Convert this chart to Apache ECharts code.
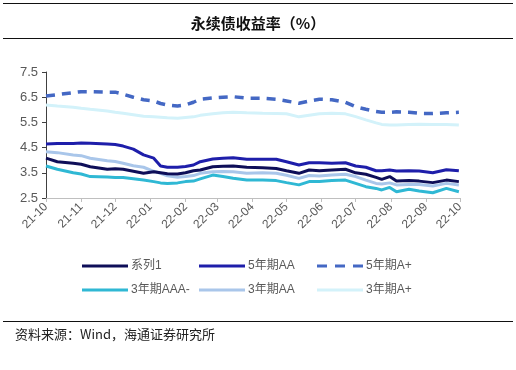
<!DOCTYPE html>
<html><head><meta charset="utf-8">
<script src="https://cdn.jsdelivr.net/npm/echarts@6/dist/echarts.min.js"></script>
<style>html,body{margin:0;padding:0;background:#fff}#c{width:516px;height:370px}</style>
</head><body><div id="c"></div>
<script>
const dates = ['2021-10-01','2021-10-11','2021-10-25','2021-11-01','2021-11-09','2021-11-24','2021-12-01','2021-12-08','2021-12-17','2021-12-26',
 '2022-01-04','2022-01-10','2022-01-16','2022-01-25','2022-02-01','2022-02-08','2022-02-14','2022-02-25','2022-03-06','2022-03-15',
 '2022-03-27','2022-04-10','2022-04-22','2022-05-01','2022-05-12','2022-05-21','2022-05-30','2022-06-10','2022-06-22','2022-07-01',
 '2022-07-10','2022-07-19','2022-07-24','2022-07-31','2022-08-06','2022-08-17','2022-08-26','2022-09-07','2022-09-19','2022-09-30'];
const s1   = [4.08,3.94,3.88,3.84,3.74,3.64,3.66,3.64,3.56,3.48,3.54,3.50,3.46,3.45,3.50,3.58,3.61,3.74,3.76,3.77,3.72,3.70,3.67,3.58,3.48,3.61,3.58,3.61,3.64,3.50,3.44,3.32,3.24,3.35,3.17,3.19,3.17,3.11,3.21,3.15];
const aa5  = [4.64,4.66,4.66,4.68,4.67,4.64,4.62,4.56,4.44,4.21,4.08,3.77,3.72,3.72,3.75,3.81,3.94,4.05,4.08,4.10,4.04,4.04,4.04,3.94,3.81,3.90,3.90,3.88,3.90,3.77,3.72,3.58,3.58,3.61,3.57,3.58,3.57,3.50,3.62,3.58];
const ap5  = [6.55,6.60,6.68,6.72,6.72,6.70,6.70,6.62,6.50,6.40,6.35,6.25,6.19,6.15,6.19,6.30,6.42,6.47,6.50,6.52,6.46,6.46,6.42,6.35,6.26,6.35,6.42,6.40,6.30,6.12,6.02,5.93,5.90,5.90,5.92,5.90,5.86,5.85,5.88,5.90];
const aaa3 = [3.77,3.64,3.50,3.45,3.35,3.33,3.31,3.31,3.26,3.21,3.15,3.10,3.08,3.10,3.15,3.17,3.26,3.41,3.35,3.28,3.21,3.21,3.19,3.11,3.02,3.15,3.15,3.19,3.21,3.08,2.95,2.88,2.82,2.92,2.75,2.85,2.78,2.71,2.88,2.75];
const aa3  = [4.34,4.30,4.21,4.18,4.08,3.98,3.95,3.88,3.78,3.72,3.56,3.48,3.38,3.32,3.35,3.39,3.48,3.54,3.55,3.54,3.48,3.50,3.48,3.40,3.28,3.39,3.37,3.41,3.44,3.35,3.21,3.08,3.06,3.10,3.02,3.04,3.04,2.98,3.08,3.02];
const ap3  = [6.19,6.15,6.10,6.06,6.02,5.95,5.90,5.86,5.80,5.74,5.72,5.70,5.68,5.66,5.69,5.72,5.78,5.84,5.88,5.90,5.88,5.86,5.85,5.84,5.72,5.78,5.84,5.86,5.84,5.73,5.60,5.48,5.42,5.40,5.40,5.42,5.43,5.42,5.42,5.40];
const monthTicks = ['2021-10-01','2021-11-01','2021-12-01','2022-01-01','2022-02-01','2022-03-01','2022-04-01','2022-05-01','2022-06-01','2022-07-01','2022-08-01','2022-09-01','2022-10-01'];
const seriesNames = ['系列1','5年期AA','5年期A+','3年期AAA-','3年期AA','3年期A+'];
const yTicks = [2.5,3.5,4.5,5.5,6.5,7.5];

const ts = d => { const p = d.split('-'); return Date.UTC(+p[0], +p[1]-1, +p[2]); };
const tickTs = monthTicks.map(ts);
const mk = arr => arr.map((v,i)=>[ts(dates[i]), v]);
const fontF = '"Liberation Sans","Noto Sans CJK SC",sans-serif';
const styles = [
  {color:'#0e0e58', width:3},
  {color:'#1e1eaa', width:3},
  {color:'#4468c4', width:3.5, type:[9,7]},
  {color:'#2fb8d4', width:3},
  {color:'#a9c6ea', width:3},
  {color:'#d3f2fa', width:3}
];
const datasets = [s1, aa5, ap5, aaa3, aa3, ap3];
const legendPos = [[77,255],[194,255],[312,255],[77,279],[194,279],[312,279]];
const dashIcon = 'path://M0,0h10v3h-10z M18,0h10v3h-10z M36,0h10v3h-10z';

const chart = echarts.init(document.getElementById('c'), null, {renderer:'canvas'});
chart.setOption({
  animation:false,
  backgroundColor:'#fff',
  title:{text:'永续债收益率（%）', left:'center', top:11,
    textStyle:{fontFamily:'"Noto Sans CJK SC",sans-serif', fontSize:15, fontWeight:'bold', color:'#111'}},
  grid:{left:46, right:56, top:72, bottom:172},
  legend: seriesNames.map((n,i)=>({
    data:[n], left:legendPos[i][0], top:legendPos[i][1], itemWidth:46, itemHeight:3, itemGap:0,
    icon: styles[i].type ? dashIcon : 'rect',
    itemStyle:{color:styles[i].color, borderWidth:0},
    textStyle:{fontFamily:fontF, fontSize:12, color:'#595959', padding:[0,0,0,-2]}
  })),
  xAxis:{type:'value', min:tickTs[0], max:tickTs[tickTs.length-1],
    axisLine:{lineStyle:{color:'#bfbfbf', width:1}},
    axisTick:{show:true, customValues:tickTs, length:4, lineStyle:{color:'#bfbfbf'}},
    axisLabel:{customValues:tickTs, rotate:45, color:'#595959', fontFamily:fontF, fontSize:12, margin:7,
      formatter: v => { const d=new Date(v); return String(d.getUTCFullYear()).slice(2)+'-'+String(d.getUTCMonth()+1).padStart(2,'0'); },
      hideOverlap:false, showMinLabel:true, showMaxLabel:true},
    splitLine:{show:false}},
  yAxis:{type:'value', min:yTicks[0], max:yTicks[yTicks.length-1], interval:1,
    axisLine:{show:true, lineStyle:{color:'#404040', width:1}},
    axisTick:{show:true, length:4, lineStyle:{color:'#404040'}},
    axisLabel:{color:'#595959', fontFamily:fontF, fontSize:13, margin:8, formatter:v=>v.toFixed(1)},
    splitLine:{show:false}},
  series: seriesNames.map((n,i)=>({
    name:n, type:'line', symbol:'none', smooth:false, data:mk(datasets[i]),
    lineStyle:{color:styles[i].color, width:styles[i].width, type:styles[i].type||'solid'},
    itemStyle:{color:styles[i].color}, z: 10-i
  })),
  graphic:[
    {type:'line', shape:{x1:3,y1:3.5,x2:513,y2:3.5}, style:{stroke:'#111', lineWidth:1}},
    {type:'line', shape:{x1:3,y1:38.5,x2:513,y2:38.5}, style:{stroke:'#111', lineWidth:1}},
    {type:'line', shape:{x1:3,y1:321.5,x2:513,y2:321.5}, style:{stroke:'#111', lineWidth:1}},
    {type:'text', left:15, top:328, style:{text:'资料来源：Wind，海通证券研究所', fill:'#222', font:'13px "Noto Sans CJK SC", "Liberation Sans", sans-serif'}}
  ]
});
</script></body></html>
